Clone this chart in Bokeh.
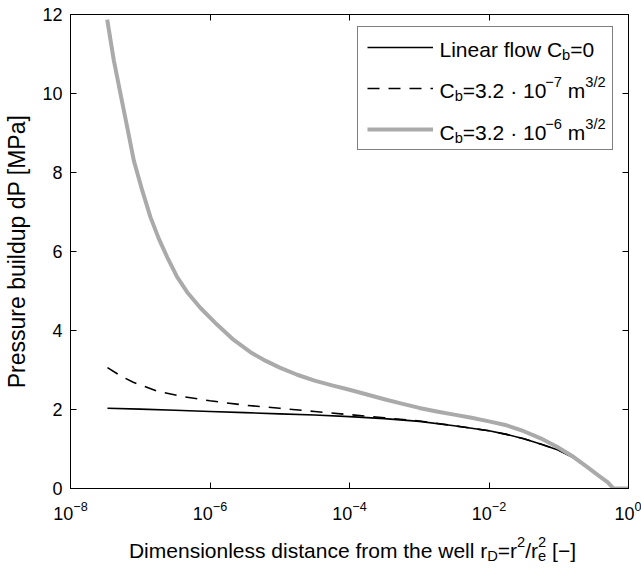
from bokeh.plotting import figure
from bokeh.layouts import column
from bokeh.models import (LogAxis, LinearAxis, FixedTicker, Legend, LegendItem,
                          Label, CustomJSTickFormatter)
from bokeh.embed import file_html
from bokeh.resources import INLINE

# ---------------- data ----------------
rd_linear = [3.39e-8, 1e-7, 3.16e-7, 1e-6, 3.16e-6, 1e-5, 3.16e-5, 1e-4, 3.16e-4,
             1e-3, 3.16e-3, 1e-2, 1.78e-2, 3.16e-2, 5.62e-2, 0.1, 0.158, 0.251,
             0.398, 0.501, 0.603, 1.0]
dp_linear = [2.03, 2.01, 1.98, 1.95, 1.92, 1.89, 1.86, 1.82, 1.77,
             1.70, 1.59, 1.46, 1.37, 1.26, 1.12, 0.97, 0.79, 0.54,
             0.29, 0.16, 0.0, 0.0]

rd_cb7 = [3.39e-8, 5.25e-8, 7.94e-8, 1.78e-7, 3.98e-7, 1e-6, 3.16e-6, 1e-5,
          3.16e-5, 1e-4, 3.16e-4, 1e-3, 3.16e-3, 1e-2, 1.78e-2, 3.16e-2,
          5.62e-2, 0.1, 0.158, 0.251, 0.398, 0.501, 0.603, 1.0]
dp_cb7 = [3.06, 2.85, 2.69, 2.46, 2.33, 2.22, 2.11, 2.03,
          1.95, 1.87, 1.79, 1.71, 1.59, 1.46, 1.37, 1.26,
          1.12, 0.97, 0.79, 0.54, 0.29, 0.16, 0.0, 0.0]

rd_cb6 = [3.36e-8, 4.18e-8, 5.21e-8, 6.50e-8, 8.09e-8, 1.07e-7, 1.40e-7,
          1.85e-7, 2.43e-7, 3.39e-7, 4.71e-7, 7.31e-7, 1.26e-6, 2.19e-6,
          3.80e-6, 6.31e-6, 1e-5, 1.78e-5, 3.16e-5, 5.62e-5, 1e-4, 1.78e-4,
          3.16e-4, 5.62e-4, 1e-3, 1.78e-3, 3.16e-3, 5.62e-3, 1e-2, 1.78e-2,
          3.16e-2, 5.50e-2, 9.55e-2, 0.166, 0.257, 0.398, 0.501, 0.589,
          0.617, 1.0]
dp_cb6 = [11.87, 10.84, 9.99, 9.15, 8.30, 7.54, 6.87,
          6.32, 5.86, 5.35, 4.97, 4.57, 4.15, 3.76,
          3.45, 3.23, 3.06, 2.88, 2.73, 2.61, 2.50, 2.38,
          2.26, 2.15, 2.04, 1.95, 1.87, 1.79, 1.70, 1.60,
          1.45, 1.27, 1.05, 0.79, 0.54, 0.29, 0.16, 0.03,
          0.0, 0.0]

x_ticks = [1e-8, 1e-6, 1e-4, 1e-2, 1.0]
y_ticks = [0, 2, 4, 6, 8, 10, 12]

FONT = "Liberation Sans"
TICK_FS = 18
LAB_FS = 21

# ---------------- main figure ----------------
p = figure(frame_width=558, frame_height=474, x_axis_type="log",
           x_range=(1e-8, 1.0), y_range=(0, 12),
           output_backend="svg", toolbar_location=None,
           min_border_left=70, min_border_right=13, min_border_top=14,
           min_border_bottom=46)
p.grid.visible = False
p.outline_line_color = "black"
p.outline_line_width = 1
p.background_fill_color = "white"
p.border_fill_color = "white"

r_lin = p.line(rd_linear, dp_linear, line_color="black", line_width=1.6,
               line_join="round")
r_c7 = p.line(rd_cb7, dp_cb7, line_color="black", line_width=1.6,
              line_dash="12 9", line_join="round")
r_c6 = p.line(rd_cb6, dp_cb6, line_color="#aaaaaa", line_width=4,
              line_join="round")

def style_axis(ax):
    ax.axis_line_color = "black"
    ax.major_tick_line_color = "black"
    ax.major_tick_in = 6
    ax.major_tick_out = 0
    ax.minor_tick_in = 0
    ax.minor_tick_out = 0
    ax.major_label_text_font = FONT
    ax.major_label_text_font_size = f"{TICK_FS}px"
    ax.major_label_text_color = "black"

xa = p.xaxis[0]
xa.ticker = FixedTicker(ticks=x_ticks, minor_ticks=[])
style_axis(xa)
xa.major_label_standoff = 12

ya = p.yaxis[0]
ya.ticker = FixedTicker(ticks=y_ticks, minor_ticks=[])
style_axis(ya)
ya.major_label_standoff = 8
ya.axis_label = "Pressure buildup dP [MPa]"
ya.axis_label_text_font = FONT
ya.axis_label_text_font_size = "23px"
ya.axis_label_text_font_style = "normal"
ya.axis_label_text_color = "black"
ya.axis_label_standoff = 9

blank = CustomJSTickFormatter(code="return ''")
top = LogAxis(ticker=FixedTicker(ticks=x_ticks, minor_ticks=[]), formatter=blank)
style_axis(top)
top.major_label_text_font_size = "0px"
top.major_label_standoff = 0
p.add_layout(top, "above")

right = LinearAxis(ticker=FixedTicker(ticks=y_ticks, minor_ticks=[]), formatter=blank)
style_axis(right)
right.major_label_text_font_size = "0px"
right.major_label_standoff = 0
p.add_layout(right, "right")

# ---------------- legend (line samples; text drawn as rich labels) ----------------
legend = Legend(items=[LegendItem(label="x", renderers=[r_lin]),
                       LegendItem(label="x", renderers=[r_c7]),
                       LegendItem(label="x", renderers=[r_c6])],
                location=(287, 338), orientation="vertical",
                border_line_color="black", border_line_width=1,
                background_fill_alpha=0,
                glyph_width=66, glyph_height=22, label_height=22,
                label_width=165, label_standoff=5, padding=9, spacing=19,
                margin=0, label_text_font_size="10px", label_text_alpha=0)
p.add_layout(legend, "center")

# ---------------- rich text helper (Arial / Liberation Sans advance widths) ----------------
W = {' ': .278, '.': .278, '\u00b7': .278, '=': .584, '\u2212': .584, '/': .278,
     '[': .278, ']': .278, 'C': .722, 'D': .722, 'L': .556, 'b': .556, 'm': .833,
     'r': .333, 'e': .556, 'i': .222, 'n': .556, 'a': .556, 'f': .278, 'l': .222,
     'o': .556, 'w': .722, 's': .5, 't': .278, 'c': .5, 'h': .556, 'd': .556}

def text_width(s, size):
    return sum(W.get(ch, .556) for ch in s) * size

def rich(fig, parts, x0, y0, size, align="left"):
    # kinds: n = normal, sub, sup, subx = subscript stacked under the next superscript
    sizes = [size if k == "n" else size * 0.7 for _, k in parts]
    total = sum(0 if k == "subx" else text_width(t, s)
                for (t, k), s in zip(parts, sizes))
    x = x0 - total / 2 if align == "center" else x0
    for (t, k), s in zip(parts, sizes):
        lead = len(t) - len(t.lstrip(" "))
        x += lead * W[' '] * s
        core = t.strip(" ")
        if k == "n":
            dy = 0
        elif k in ("sub", "subx"):
            dy = -0.28 * size
        else:
            dy = 0.42 * size
        if core:
            fig.add_layout(Label(x=x, y=y0 + dy, x_units="screen", y_units="screen",
                                 text=core, text_font=FONT,
                                 text_font_size=f"{s:.1f}px",
                                 text_baseline="alphabetic", text_align="left",
                                 text_color="black", level="overlay"))
        if k != "subx":
            x += text_width(core, s)
        trail = len(t) - len(t.rstrip(" "))
        x += trail * W[' '] * s

leg_x = 369
rich(p, [("Linear flow C", "n"), ("b", "sub"), ("=0", "n")], leg_x, 439, LAB_FS)
rich(p, [("C", "n"), ("b", "sub"), ("=3.2 \u00b7 10", "n"), ("\u22127", "sup"),
         (" m", "n"), ("3/2", "sup")], leg_x, 398, LAB_FS)
rich(p, [("C", "n"), ("b", "sub"), ("=3.2 \u00b7 10", "n"), ("\u22126", "sup"),
         (" m", "n"), ("3/2", "sup")], leg_x, 356, LAB_FS)

# ---------------- x-axis title strip (rich text with sub/superscripts) ----------------
q = figure(frame_width=558, frame_height=34, x_range=(0, 1), y_range=(0, 1),
           output_backend="svg", toolbar_location=None,
           x_axis_location=None, y_axis_location=None,
           min_border_left=70, min_border_right=13, min_border_top=0,
           min_border_bottom=0)
q.grid.visible = False
q.outline_line_color = None
q.background_fill_color = "white"
q.border_fill_color = "white"

rich(q, [("Dimensionless distance from the well r", "n"), ("D", "sub"), ("=r", "n"),
         ("2", "sup"), ("/r", "n"), ("e", "subx"), ("2", "sup"), (" [\u2212]", "n")],
     282, 18, LAB_FS, align="center")

layout = column(p, q, spacing=0)
open("out.html", "w").write(file_html(layout, INLINE))
